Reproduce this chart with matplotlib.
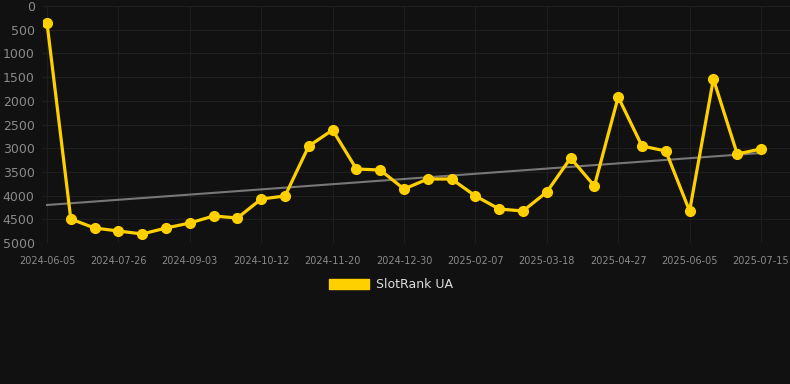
import matplotlib
matplotlib.use("Agg")
import matplotlib.pyplot as plt
import numpy as np
from matplotlib.patches import Patch

tick_labels = ["2024-06-05", "2024-07-26", "2024-09-03", "2024-10-12", "2024-11-20",
               "2024-12-30", "2025-02-07", "2025-03-18", "2025-04-27", "2025-06-05",
               "2025-07-15"]
rank = [359, 4494, 4684, 4747, 4810, 4684, 4578, 4430, 4473, 4072, 4008,
        2954, 2616, 3439, 3460, 3861, 3650, 3650, 4008, 4283, 4325, 3924,
        3207, 3797, 1920, 2954, 3059, 4325, 1540, 3122, 3017]
trend_ends = [4198, 3101]
series_name = "SlotRank UA"

bg = "#111111"
fig = plt.figure(figsize=(7.9, 3.84), dpi=100, facecolor=bg)
ax = fig.add_axes([43/790, 1-243/384, (790-43)/790, (243-6)/384])
ax.set_facecolor(bg)

x = np.arange(len(rank))
ax.plot([x[0], x[-1]], trend_ends, color="#777777", lw=1.5, zorder=2)
ax.plot(x, rank, color="#FFD000", lw=2.3, marker="o", ms=7, zorder=3)

ax.set_xlim(-4/23.8, 30 + 29/23.8)
ax.set_ylim(5000, 0)
ax.set_yticks(range(0, 5001, 500))
ax.set_xticks(x[::3])
ax.set_xticklabels(tick_labels)
ax.grid(True, color="#1e1e1e", lw=0.8)
ax.set_axisbelow(True)
for s in ax.spines.values():
    s.set_visible(False)
ax.tick_params(axis="y", length=0, pad=6, labelsize=9, labelcolor="#8a8a8a")
ax.tick_params(axis="x", length=0, pad=9, labelsize=7, labelcolor="#8a8a8a")

leg = fig.legend(handles=[Patch(facecolor="#FFD000", edgecolor="#FFD000")], labels=[series_name],
                 loc="center", bbox_to_anchor=(391/790, 1-284.5/384), frameon=False,
                 handlelength=3.2, handleheight=0.9, fontsize=9, labelcolor="#dddddd",
                 handletextpad=0.5)

fig.savefig("out.png", dpi=100, facecolor=bg)
